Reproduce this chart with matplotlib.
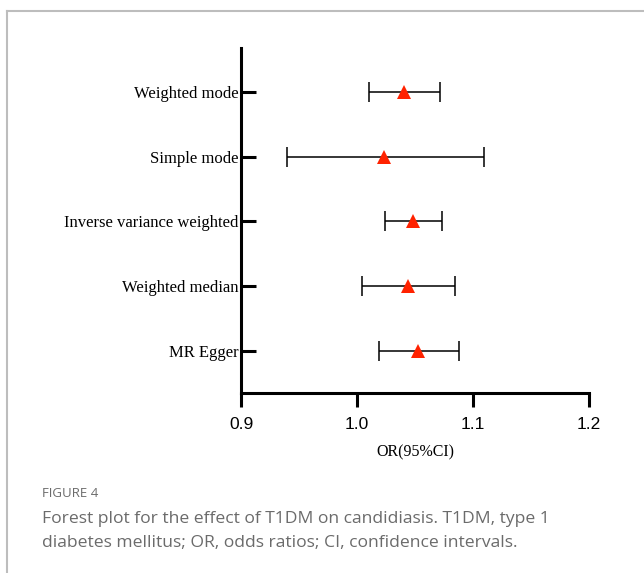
import matplotlib
matplotlib.use("Agg")
from matplotlib import pyplot as plt
from matplotlib.lines import Line2D

methods = ['MR Egger', 'Weighted median', 'Inverse variance weighted', 'Simple mode', 'Weighted mode']
odds = [1.0526, 1.0440, 1.0483, 1.0233, 1.0405]
ci_low = [1.0187, 1.0043, 1.0241, 0.9397, 1.0100]
ci_high = [1.0876, 1.0845, 1.0733, 1.1095, 1.0716]
xticks = [0.9, 1.0, 1.1, 1.2]
xtick_labels = ['0.9', '1.0', '1.1', '1.2']

fig = plt.figure(figsize=(6.44, 5.73), dpi=100)
W, H = 644, 573
ax = fig.add_axes([241 / W, 1 - 393 / H, (589 - 241) / W, (393 - 48) / H])

ypos = list(range(1, len(methods) + 1))
err = [[o - l for o, l in zip(odds, ci_low)], [h - o for o, h in zip(odds, ci_high)]]
ax.errorbar(odds, ypos, xerr=err, fmt='none', ecolor='black', elinewidth=1.1,
            capsize=7, capthick=1.1, zorder=2)
ax.plot(odds, ypos, linestyle='none', marker='^', color='#ff2200', markersize=10,
        markeredgewidth=0, zorder=3)

ax.set_xlim(0.9, 1.2)
ax.set_ylim(0.35, 5.68)
ax.set_xticks(xticks)
ax.set_xticklabels(xtick_labels, fontfamily='Liberation Sans', fontsize=12.5)
ax.set_yticks(ypos)
ax.set_yticklabels(methods, fontfamily='Liberation Serif', fontsize=12)
ax.tick_params(axis='y', direction='in', length=11, width=2.2, pad=2)
ax.tick_params(axis='x', direction='out', length=10, width=2.2, pad=7)
for side in ['top', 'right']:
    ax.spines[side].set_visible(False)
for side in ['left', 'bottom']:
    ax.spines[side].set_linewidth(2.2)
ax.set_xlabel('OR(95%CI)', fontfamily='Liberation Serif', fontsize=11.5, labelpad=9)

# caption frame and text
fig.add_artist(Line2D([7 / W, 7 / W], [0, 1 - 11 / H], color='#bdbdbd', lw=1.5))
fig.add_artist(Line2D([7 / W, 1], [1 - 11 / H, 1 - 11 / H], color='#bdbdbd', lw=1.5))
fig.text(42 / W, 1 - 497 / H, 'FIGURE 4', fontfamily='Open Sans', fontsize=9.5,
         color='#6b6b6b', va='baseline')
fig.text(42 / W, 1 - 523 / H, 'Forest plot for the effect of T1DM on candidiasis. T1DM, type 1',
         fontfamily='Open Sans', fontsize=12.6, color='#6b6b6b', va='baseline')
fig.text(42 / W, 1 - 547 / H, 'diabetes mellitus; OR, odds ratios; CI, confidence intervals.',
         fontfamily='Open Sans', fontsize=12.6, color='#6b6b6b', va='baseline')

fig.savefig('out.png', dpi=100)
